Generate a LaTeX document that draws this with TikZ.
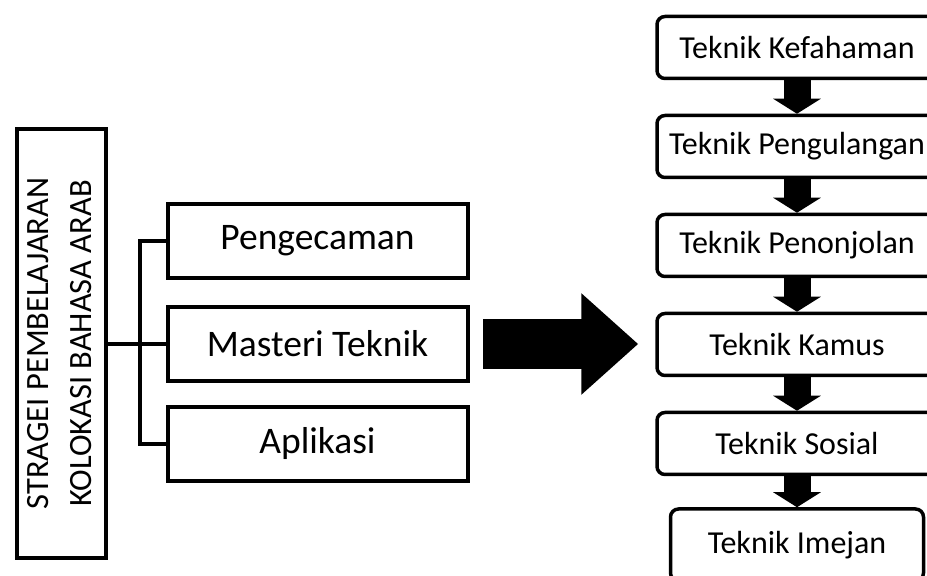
\documentclass[tikz,border=0pt]{standalone}
\usepackage{fontspec}
\setmainfont{Carlito}
\usetikzlibrary{arrows.meta}

\tikzset{
  kotak/.style={draw, line width=4pt, inner sep=0pt, minimum width=300pt, minimum height=74pt, font=\fontsize{37.5}{45}\selectfont},
  teknik/.style={draw, line width=3.5pt, rounded corners=8pt, inner sep=0pt, minimum width=280pt, minimum height=62pt, font=\fontsize{32}{38}\selectfont},
  cabang/.style={line width=4pt},
  turun/.style={line width=27pt, -{Triangle[width=47pt,length=15pt]}}
}

\begin{document}
\begin{tikzpicture}[x=1pt,y=1pt]
\useasboundingbox (0,0) rectangle (927,576);
% tajuk utama
\node[draw, line width=4pt, inner sep=0pt, minimum width=89pt, minimum height=429pt] (tajuk) at (61.5,232.5)
  {\rotatebox{90}{\fontsize{32.5}{43}\selectfont\begin{tabular}{@{}c@{}}STRAGEI PEMBELAJARAN\\KOLOKASI BAHASA ARAB\end{tabular}}};
\node[kotak] (kenal) at (317.5,335) {Pengecaman};
\node[kotak] (master) at (317.5,232) {Masteri Teknik};
\node[kotak] (aplikasi) at (317.5,132) {Aplikasi};
\coordinate (bus) at (140,232);
\draw[cabang] (tajuk.east |- bus) -- (bus);
\draw[cabang] (kenal.west) -| (bus) |- (aplikasi.west);
\draw[cabang] (bus) -- (master.west);
% teknik-teknik
\node[teknik] (k1) at (797,528.5) {Teknik Kefahaman};
\node[teknik] (k2) at (797,429.5) {Teknik Pengulangan};
\node[teknik] (k3) at (797,330.5) {Teknik Penonjolan};
\node[teknik] (k4) at (797,231.5) {Teknik Kamus};
\node[teknik] (k5) at (797,132.5) {Teknik Sosial};
\node[teknik, minimum width=253pt, minimum height=72pt] (k6) at (797,31) {Teknik Imejan};
\draw[turun] (k1.south) -- (k2.north);
\draw[turun] (k2.south) -- (k3.north);
\draw[turun] (k3.south) -- (k4.north);
\draw[turun] (k4.south) -- (k5.north);
\draw[turun] (k5.south) -- (k6.north);
% anak panah besar
\draw[line width=50pt, -{Triangle[width=98pt,length=57pt]}, shorten <=13.5pt, shorten >=17pt] (master.east) -- (master.east -| k4.west);
\end{tikzpicture}
\end{document}
